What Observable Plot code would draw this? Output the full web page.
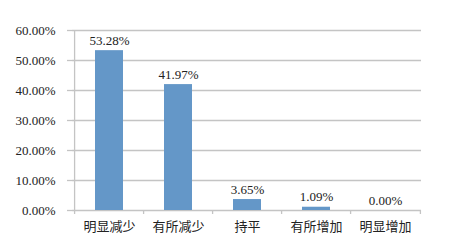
<!DOCTYPE html>
<html>
<head>
<meta charset="utf-8">
<script src="https://cdn.jsdelivr.net/npm/d3@7"></script>
<script src="https://cdn.jsdelivr.net/npm/@observablehq/plot@0.6"></script>
<style>
  html, body { margin: 0; padding: 0; background: #fff; }
  #chart svg { display: block; }
</style>
</head>
<body>
<div id="chart"></div>
<script>
const categories = ["明显减少", "有所减少", "持平", "有所增加", "明显增加"];
const values = [53.28, 41.97, 3.65, 1.09, 0.00];
const yTicks = [0, 10, 20, 30, 40, 50, 60];

const data = categories.map((c, i) => ({cat: c, val: values[i]}));
const gridColor = "#c4c4c4";
const textColor = "#222";
const half = (453 - 72 - 32) / 5 / 2;

const chart = Plot.plot({
  width: 453,
  height: 250,
  marginLeft: 72,
  marginRight: 32,
  marginTop: 30,
  marginBottom: 40,
  style: {background: "#fff", color: textColor},
  x: {domain: categories, paddingInner: 0.6, paddingOuter: 0.3, label: null, axis: null},
  y: {domain: [0, 60], label: null, axis: null},
  marks: [
    Plot.gridY(yTicks, {stroke: gridColor, strokeOpacity: 1, strokeWidth: 1.3}),
    Plot.ruleX([categories[0]], {stroke: gridColor, strokeWidth: 1.3, dx: -half}),
    Plot.ruleX(categories, {y1: 0, y2: 0, insetBottom: -4, stroke: gridColor, strokeWidth: 1.3, dx: -half}),
    Plot.ruleX([categories[categories.length - 1]], {y1: 0, y2: 0, insetBottom: -4, stroke: gridColor, strokeWidth: 1.3, dx: half}),
    Plot.barY(data, {x: "cat", y: "val", fill: "#6497c8"}),
    Plot.text(data, {x: "cat", y: "val", text: d => d.val.toFixed(2) + "%", dy: -10,
      fontFamily: "Liberation Serif", fontSize: 13, fill: textColor}),
    Plot.axisY(yTicks, {tickSize: 5, tickPadding: 12, stroke: gridColor, strokeWidth: 1.3,
      tickFormat: d => d.toFixed(2) + "%", fontFamily: "Liberation Serif", fontSize: 13, fill: textColor, label: null}),
    Plot.axisX({tickSize: 0, tickPadding: 11, fontFamily: "Noto Sans CJK SC", fontSize: 13, fill: textColor, label: null})
  ]
});
document.getElementById("chart").appendChild(chart);
</script>
</body>
</html>
